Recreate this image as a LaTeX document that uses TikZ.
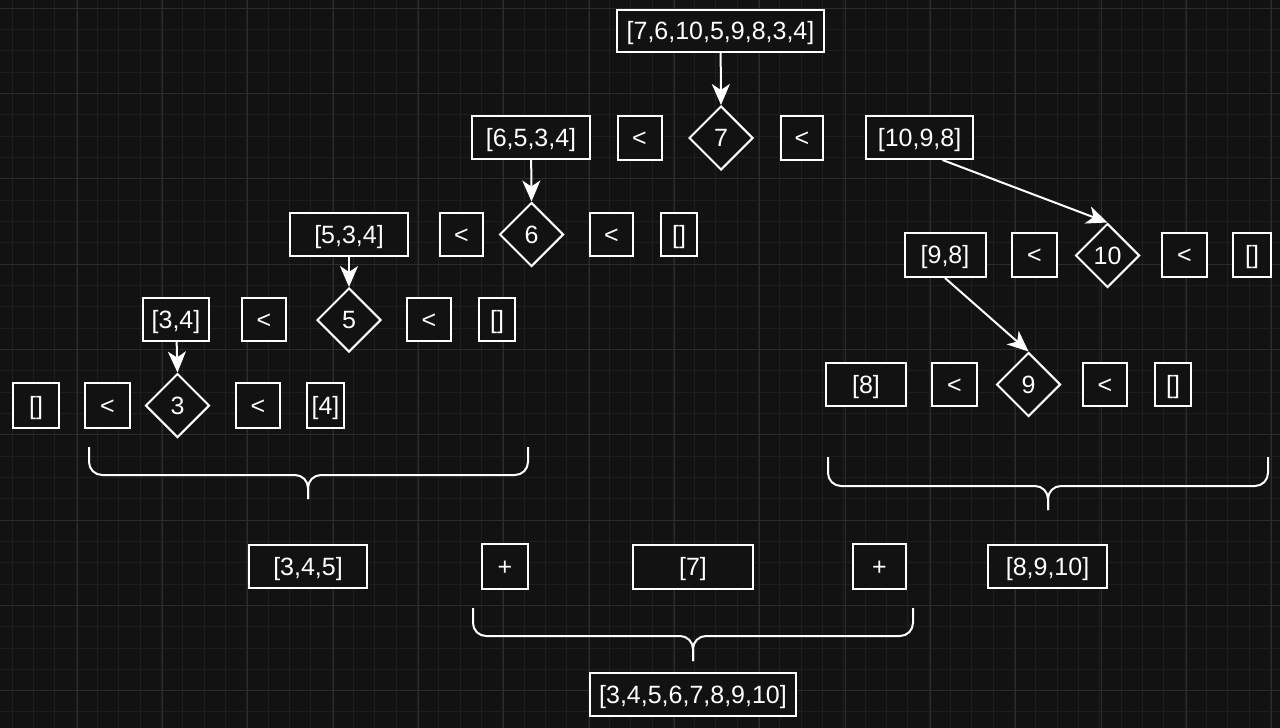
\documentclass[tikz,border=0pt]{standalone}
\usepackage{fontspec}
\setmainfont{Liberation Sans}
\usetikzlibrary{shapes.geometric,arrows.meta}
\definecolor{canvas}{HTML}{121212}
\definecolor{gridminor}{HTML}{1E1E1E}
\definecolor{gridmajor}{HTML}{2C2C2C}
\begin{document}
\begin{tikzpicture}[x=1pt, y=-1pt, line width=2pt,
  box/.style={rectangle, draw=white, fill=canvas, text=white, minimum height=43pt, inner sep=0pt, text height=17.9pt, text depth=0pt, font=\fontsize{25}{30}\selectfont},
  pivot/.style={diamond, draw=white, fill=canvas, text=white, minimum width=64pt, minimum height=64pt, inner sep=0pt, text height=17.9pt, text depth=0pt, font=\fontsize{25}{30}\selectfont},
  link/.style={draw=white, -{Stealth[length=21pt,width=18pt,inset=6pt]}},
  brace/.style={draw=white, rounded corners=13pt}]
	\useasboundingbox (0,0) rectangle (1280,728);
	\fill[canvas] (0,0) rectangle (1280,728);
	% grid
	\foreach \i in {0,...,60} \draw[gridminor, line width=1pt] ({-9.33+21.333*\i},0) -- ({-9.33+21.333*\i},728);
	\foreach \i in {0,...,35} \draw[gridminor, line width=1pt] (0,{-13.33+21.333*\i}) -- (1280,{-13.33+21.333*\i});
	\foreach \i in {0,...,15} \draw[gridmajor, line width=1pt] ({-8.33+85.333*\i},0) -- ({-8.33+85.333*\i},728);
	\foreach \i in {0,...,8} \draw[gridmajor, line width=1pt] (0,{8+85.333*\i}) -- (1280,{8+85.333*\i});
	% level 7
	\node[box, minimum width=207pt, minimum height=42pt] (all) at (720.5,31) {[7,6,10,5,9,8,3,4]};
	\node[pivot] (p7) at (721,138) {7};
	\node[box, minimum width=44pt, minimum height=44pt] (lt7l) at (639.5,138) {<};
	\node[box, minimum width=42pt, minimum height=44pt] (lt7r) at (802,138) {<};
	\node[box, minimum width=118pt] (left7) at (531,137.5) {[6,5,3,4]};
	\node[box, minimum width=107pt] (right7) at (919.5,137.5) {[10,9,8]};
	% level 6
	\node[box, minimum width=118pt] (left6) at (349,234.5) {[5,3,4]};
	\node[box, minimum width=43pt] (lt6l) at (461.5,234.5) {<};
	\node[pivot] (p6) at (531.5,234.5) {6};
	\node[box, minimum width=43pt] (lt6r) at (611.5,234.5) {<};
	\node[box, minimum width=36pt] (right6) at (679,234.5) {[]};
	% level 10
	\node[box, minimum width=81pt, minimum height=44pt] (left10) at (945,255) {[9,8]};
	\node[box, minimum width=45pt, minimum height=44pt] (lt10l) at (1034.5,255) {<};
	\node[pivot] (p10) at (1107.5,255.5) {10};
	\node[box, minimum width=45pt, minimum height=44pt] (lt10r) at (1184.5,255) {<};
	\node[box, minimum width=38pt, minimum height=44pt] (right10) at (1252,255) {[]};
	% level 5
	\node[box, minimum width=66pt] (left5) at (176,319.5) {[3,4]};
	\node[box, minimum width=44pt] (lt5l) at (264,319.5) {<};
	\node[pivot] (p5) at (349,320) {5};
	\node[box, minimum width=44pt] (lt5r) at (429,319.5) {<};
	\node[box, minimum width=36pt] (right5) at (497,319.5) {[]};
	% level 3
	\node[box, minimum width=46pt, minimum height=45pt] (left3) at (36,405.5) {[]};
	\node[box, minimum width=45pt, minimum height=45pt] (lt3l) at (107.5,405.5) {<};
	\node[pivot] (p3) at (177.5,405.5) {3};
	\node[box, minimum width=44pt, minimum height=45pt] (lt3r) at (258,405.5) {<};
	\node[box, minimum width=37pt, minimum height=45pt] (right3) at (325.5,405.5) {[4]};
	% level 9
	\node[box, minimum width=80pt] (left9) at (866,384.5) {[8]};
	\node[box, minimum width=45pt] (lt9l) at (954.5,384.5) {<};
	\node[pivot] (p9) at (1028.5,384.5) {9};
	\node[box, minimum width=44pt] (lt9r) at (1105,384.5) {<};
	\node[box, minimum width=36pt] (right9) at (1173,384.5) {[]};
	% merge
	\node[box, minimum width=118pt] (low) at (308,566.5) {[3,4,5]};
	\node[box, minimum width=46pt, minimum height=45pt] (plusl) at (505,566.5) {+};
	\node[box, minimum width=120pt, minimum height=44pt] (mid) at (693,566.5) {[7]};
	\node[box, minimum width=53pt, minimum height=45pt] (plusr) at (879.5,566.5) {+};
	\node[box, minimum width=119pt] (high) at (1047.5,566.5) {[8,9,10]};
	\node[box, minimum width=206pt] (result) at (693,694.5) {[3,4,5,6,7,8,9,10]};
	% arrows
	\draw[link] (all) -- (p7.north);
	\draw[link] (left7) -- (p6.north);
	\draw[link] (left6) -- (p5.north);
	\draw[link] (left5) -- (p3.north);
	\draw[link] ([xshift=23pt]right7.south) -- (p10.north);
	\draw[link] (left10.south) -- (p9.north);
	% braces
	\draw[brace] (89,447) -- (89,475) -- (308,475) -- (308,499);
	\draw[brace] (528,447) -- (528,475) -- (308,475) -- (308,499);
	\draw[brace] (828,457) -- (828,486) -- (1048,486) -- (1048,510);
	\draw[brace] (1268,457) -- (1268,486) -- (1048,486) -- (1048,510);
	\draw[brace] (473,608) -- (473,636) -- (693,636) -- (693,661);
	\draw[brace] (913,608) -- (913,636) -- (693,636) -- (693,661);
\end{tikzpicture}
\end{document}
